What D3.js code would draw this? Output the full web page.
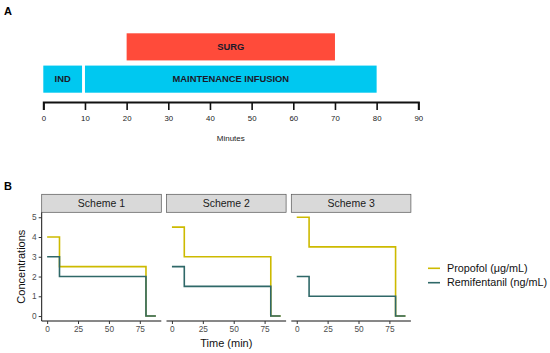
<!DOCTYPE html>
<html><head><meta charset="utf-8">
<script src="https://cdn.jsdelivr.net/npm/d3@7"></script>
<style>body{margin:0;background:#fff;} svg{display:block;font-family:Arial,"Liberation Sans",sans-serif;}</style>
</head><body><svg id="c" width="550" height="353"></svg>
<script>
// Panel A data
const phaseNames = ["SURG", "IND", "MAINTENANCE INFUSION"];
const phaseStart = [20, 0, 10];
const phaseEnd = [70, 9.3, 80];
const phaseRow = [0, 1, 1];
const phaseColors = ["#FF4B3A", "#00C8F0", "#00C8F0"];
const minuteTicks = [0, 10, 20, 30, 40, 50, 60, 70, 80, 90];

// Panel B data
const schemes = ["Scheme 1", "Scheme 2", "Scheme 3"];
const stepTimes = [0, 10, 80, 88];
const propofol = [[4, 2.5, 0, 0], [4.5, 3, 0, 0], [5, 3.5, 0, 0]];
const remifentanil = [[3, 2, 0, 0], [2.5, 1.5, 0, 0], [2, 1, 0, 0]];
const seriesNames = ["Propofol (μg/mL)", "Remifentanil (ng/mL)"];
const seriesColors = ["#CDBA00", "#2F6868"];
const timeTicks = [0, 25, 50, 75];
const concTicks = [0, 1, 2, 3, 4, 5];

const svg = d3.select("#c");

// ---------- Panel A ----------
svg.append("text").attr("x", 4).attr("y", 15).attr("font-size", 11).attr("font-weight", "bold").text("A");
const xa = d3.scaleLinear().domain([0, 90]).range([43.3, 418.3]);
const rowY = d3.scaleBand().domain([0, 1]).range([33.3, 92.7]).paddingInner(0.16);
const gA = svg.append("g");
phaseNames.forEach((n, i) => {
  gA.append("rect").attr("x", xa(phaseStart[i])).attr("y", rowY(phaseRow[i]))
    .attr("width", xa(phaseEnd[i]) - xa(phaseStart[i])).attr("height", rowY.bandwidth())
    .attr("fill", phaseColors[i]);
  gA.append("text").attr("x", (xa(phaseStart[i]) + xa(phaseEnd[i])) / 2)
    .attr("y", rowY(phaseRow[i]) + rowY.bandwidth() / 2).attr("dy", "0.35em")
    .attr("text-anchor", "middle").attr("font-size", 9.4).attr("font-weight", "bold")
    .attr("fill", "#1a1a2a").text(n);
});
const axA = gA.append("g").attr("transform", "translate(0,102)")
  .call(d3.axisBottom(xa).tickValues(minuteTicks).tickSize(8).tickPadding(5));
axA.select(".domain").attr("stroke", "#111").attr("stroke-width", 2);
axA.selectAll(".tick line").attr("stroke", "#111").attr("stroke-width", 1.6);
axA.selectAll(".tick text").attr("font-size", 7.8).attr("fill", "#222").attr("font-family", "Arial, sans-serif");
gA.append("text").attr("x", (xa(0) + xa(90)) / 2).attr("y", 141).attr("text-anchor", "middle")
  .attr("font-size", 8).attr("fill", "#222").text("Minutes");

// ---------- Panel B ----------
svg.append("text").attr("x", 4).attr("y", 190).attr("font-size", 11).attr("font-weight", "bold").text("B");
const panelW = 119.6, panelGap = 5.2, panelLeft = 41.7;
const plotTop = 212.3, plotBot = 321;
const stripTop = 194.3;
const y = d3.scaleLinear().domain([-0.25, 5.25]).range([plotBot, plotTop]);
const xDomain = [-4.4, 92.4];

schemes.forEach((s, k) => {
  const x0 = panelLeft + k * (panelW + panelGap);
  const x = d3.scaleLinear().domain(xDomain).range([x0, x0 + panelW]);
  const g = svg.append("g");
  // strip
  g.append("rect").attr("x", x0).attr("y", stripTop).attr("width", panelW).attr("height", plotTop - stripTop)
    .attr("fill", "#D9D9D9").attr("stroke", "#555").attr("stroke-width", 0.7);
  g.append("text").attr("x", x0 + panelW / 2).attr("y", (stripTop + plotTop) / 2).attr("dy", "0.36em")
    .attr("text-anchor", "middle").attr("font-size", 10.5).attr("fill", "#1a1a1a").text(s);
  // lines
  const line = d3.line().x((d, i) => x(stepTimes[i])).y(d => y(d)).curve(d3.curveStepAfter);
  [propofol[k], remifentanil[k]].forEach((vals, j) => {
    g.append("path").attr("d", line(vals)).attr("fill", "none")
      .attr("stroke", seriesColors[j]).attr("stroke-width", 1.6);
  });
  // bottom axis
  const ax = g.append("g").attr("transform", `translate(0,${plotBot})`)
    .call(d3.axisBottom(x).tickValues(timeTicks).tickSize(3).tickPadding(2));
  ax.select(".domain").attr("d", `M${x0},0H${x0 + panelW}`).attr("stroke", "#111").attr("stroke-width", 1);
  ax.selectAll(".tick line").attr("stroke", "#333");
  ax.selectAll(".tick text").attr("font-size", 8.3).attr("fill", "#4D4D4D").attr("font-family", "Arial, sans-serif");
  if (k === 0) {
    const ay = g.append("g").attr("transform", `translate(${x0},0)`)
      .call(d3.axisLeft(y).tickValues(concTicks).tickFormat(d3.format("d")).tickSize(3).tickPadding(2));
    ay.select(".domain").attr("d", `M0,${plotTop}V${plotBot}`).attr("stroke", "#111").attr("stroke-width", 1);
    ay.selectAll(".tick line").attr("stroke", "#333");
    ay.selectAll(".tick text").attr("font-size", 8.3).attr("fill", "#4D4D4D").attr("font-family", "Arial, sans-serif");
  }
});

// axis titles
svg.append("text").attr("x", panelLeft + (3 * panelW + 2 * panelGap) / 2).attr("y", 347)
  .attr("text-anchor", "middle").attr("font-size", 11).attr("fill", "#111").text("Time (min)");
svg.append("text").attr("transform", `translate(25,${(plotTop + plotBot) / 2}) rotate(-90)`)
  .attr("text-anchor", "middle").attr("font-size", 11).attr("fill", "#111").text("Concentrations");

// legend
seriesNames.forEach((n, j) => {
  const ly = 268.3 + j * 14.4;
  svg.append("line").attr("x1", 428).attr("x2", 440).attr("y1", ly).attr("y2", ly)
    .attr("stroke", seriesColors[j]).attr("stroke-width", 1.6);
  svg.append("text").attr("x", 447).attr("y", ly).attr("dy", "0.35em").attr("font-size", 10.8)
    .attr("fill", "#111").text(n);
});
</script></body></html>
